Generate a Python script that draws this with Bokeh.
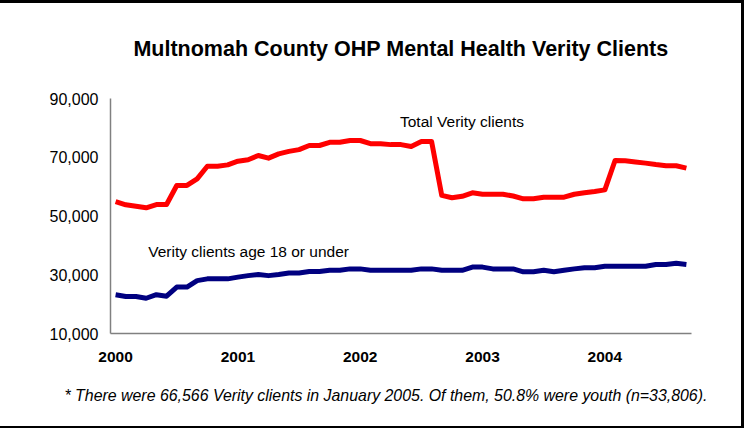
from bokeh.plotting import figure
from bokeh.models import Range1d, FixedTicker, Label, Title, NumeralTickFormatter
from bokeh.embed import file_html
from bokeh.resources import INLINE

# Monthly data, January 2000 .. September 2004 (index = months since Jan 2000)
month_index = list(range(57))
year_ticks = [0, 12, 24, 36, 48]
year_labels = ["2000", "2001", "2002", "2003", "2004"]
y_ticks = [10000, 30000, 50000, 70000, 90000]

total_clients = [54900, 53800, 53300, 52800, 53900, 53900, 60400, 60400, 62650, 66950,
                 66950, 67400, 68650, 69150, 70600, 69700, 71150, 72000, 72600, 74000,
                 74000, 75100, 75100, 75700, 75700, 74600, 74600, 74300, 74300, 73650,
                 75350, 75350, 57000, 56200, 56700, 57900, 57400, 57400, 57400, 56800,
                 55850, 55850, 56400, 56400, 56400, 57400, 57900, 58350, 58900, 68900,
                 68800, 68400, 68000, 67500, 67100, 67100, 66300]

youth_clients = [23200, 22600, 22600, 22000, 23200, 22700, 25800, 25800, 28000, 28600,
                 28600, 28600, 29200, 29700, 30100, 29700, 30100, 30600, 30600, 31100,
                 31100, 31500, 31500, 32000, 32000, 31500, 31500, 31500, 31500, 31500,
                 32000, 32000, 31500, 31500, 31500, 32600, 32600, 32000, 32000, 32000,
                 31000, 31000, 31500, 31000, 31500, 32000, 32400, 32400, 32900, 32900,
                 32900, 32900, 32900, 33500, 33500, 33900, 33500]

title_text = "Multnomah County OHP Mental Health Verity Clients"
footnote_text = "* There were 66,566 Verity clients in January 2005. Of them, 50.8% were youth (n=33,806)."
total_label = "Total Verity clients"
youth_label = "Verity clients age 18 or under"

FONT = "Liberation Sans"

p = figure(width=744, height=428, output_backend="svg", toolbar_location=None, tools="",
           x_range=Range1d(-0.5, 56.5), y_range=Range1d(10000, 90000),
           min_border_left=110, min_border_right=53, min_border_top=98, min_border_bottom=95,
           background_fill_color=None, border_fill_color=None)
p.styles = {
    "background-color": "white",
    "box-shadow": "inset 0 3px 0 0 black, inset -3px 0 0 0 black, inset 0 -2px 0 0 black",
}
p.outline_line_color = None
p.xgrid.visible = False
p.ygrid.visible = False

p.title.text = title_text
p.title.align = "center"
p.title.vertical_align = "top"
p.title.text_font = FONT
p.title.text_font_size = "21.5px"
p.title.text_font_style = "bold"
p.title.text_color = "black"
p.title.standoff = 71

p.add_layout(Title(text=footnote_text, align="left", offset=-46, text_font=FONT,
                   text_font_size="15.9px", text_font_style="italic", text_color="black",
                   standoff=41), "below")

# x axis
p.xaxis.ticker = FixedTicker(ticks=year_ticks)
p.xaxis.major_label_overrides = dict(zip(year_ticks, year_labels))
p.xaxis.major_tick_in = 0
p.xaxis.major_tick_out = 0
p.xaxis.minor_tick_in = 0
p.xaxis.minor_tick_out = 0
p.xaxis.major_tick_line_color = None
p.xaxis.minor_tick_line_color = None
p.xaxis.major_label_standoff = 18
p.xaxis.major_label_text_font = FONT
p.xaxis.major_label_text_font_size = "15.5px"
p.xaxis.major_label_text_font_style = "bold"
p.xaxis.major_label_text_color = "black"
p.xaxis.axis_line_color = "#808080"
p.xaxis.axis_line_width = 1.5

# y axis
p.yaxis.ticker = FixedTicker(ticks=y_ticks)
p.yaxis.formatter = NumeralTickFormatter(format="0,0")
p.yaxis.major_tick_in = 0
p.yaxis.major_tick_out = 0
p.yaxis.minor_tick_in = 0
p.yaxis.minor_tick_out = 0
p.yaxis.major_tick_line_color = None
p.yaxis.minor_tick_line_color = None
p.yaxis.major_label_standoff = 12
p.yaxis.major_label_text_font = FONT
p.yaxis.major_label_text_font_size = "16px"
p.yaxis.major_label_text_color = "black"
p.yaxis.axis_line_color = "#808080"
p.yaxis.axis_line_width = 1.5

p.line(month_index, total_clients, line_color="#FF0000", line_width=5, line_join="round")
p.line(month_index, youth_clients, line_color="#000080", line_width=5, line_join="round")

p.add_layout(Label(x=27.9, y=82050, text=total_label, text_font=FONT, text_font_size="15.5px",
                   text_align="left", text_baseline="alphabetic", text_color="black"))
p.add_layout(Label(x=3.2, y=37800, text=youth_label, text_font=FONT, text_font_size="15.5px",
                   text_align="left", text_baseline="alphabetic", text_color="black"))

open("out.html", "w").write(file_html(p, INLINE))
